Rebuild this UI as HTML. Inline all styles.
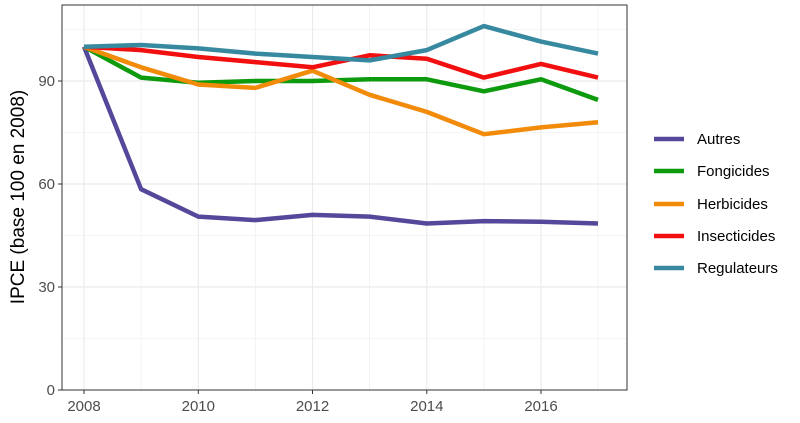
<!DOCTYPE html><html><head><style>body{margin:0;background:#fff}svg{font-family:"Liberation Sans",sans-serif}</style></head><body>
<svg width="800" height="418" xmlns="http://www.w3.org/2000/svg">
<rect width="800" height="418" fill="#fff"/>
<g stroke="#ebebeb" stroke-width="0.6">
<line x1="62" x2="627" y1="338.5" y2="338.5"/><line x1="62" x2="627" y1="235.5" y2="235.5"/><line x1="62" x2="627" y1="132.5" y2="132.5"/><line x1="62" x2="627" y1="29.5" y2="29.5"/>
<line y1="5" y2="390" x1="141.1" x2="141.1"/><line y1="5" y2="390" x1="255.4" x2="255.4"/><line y1="5" y2="390" x1="369.6" x2="369.6"/><line y1="5" y2="390" x1="483.9" x2="483.9"/><line y1="5" y2="390" x1="598" x2="598"/>
</g>
<g stroke="#ebebeb" stroke-width="1.2">
<line x1="62" x2="627" y1="287" y2="287"/><line x1="62" x2="627" y1="184" y2="184"/><line x1="62" x2="627" y1="81" y2="81"/>
<line y1="5" y2="390" x1="84" x2="84"/><line y1="5" y2="390" x1="198.3" x2="198.3"/><line y1="5" y2="390" x1="312.5" x2="312.5"/><line y1="5" y2="390" x1="426.8" x2="426.8"/><line y1="5" y2="390" x1="541" x2="541"/>
</g>
<g fill="none" stroke-width="4.5" stroke-linejoin="round">
<polyline stroke="#54489a" points="84,46.7 141.1,189.2 198.3,216.6 255.4,220.1 312.5,214.9 369.6,216.6 426.8,223.5 483.9,221.1 541,221.8 598,223.5"/>
<polyline stroke="#0d9a0d" points="84,46.7 141.1,77.6 198.3,82.7 255.4,81 312.5,81 369.6,79.3 426.8,79.3 483.9,91.3 541,79.3 598,99.9"/>
<polyline stroke="#f28a0a" points="84,46.7 141.1,67.3 198.3,84.5 255.4,87.9 312.5,70.7 369.6,94.8 426.8,111.9 483.9,134.2 541,127.4 598,122.2"/>
<polyline stroke="#f20f0f" points="84,46.7 141.1,50.1 198.3,57 255.4,62.1 312.5,67.3 369.6,55.3 426.8,58.7 483.9,77.6 541,63.9 598,77.6"/>
<polyline stroke="#3789a0" points="84,46.7 141.1,45 198.3,48.4 255.4,53.6 312.5,57 369.6,60.4 426.8,50.1 483.9,26.1 541,41.6 598,53.6"/>
</g>
<rect x="62" y="5" width="565" height="385" fill="none" stroke="#333" stroke-width="1"/>
<g stroke="#333" stroke-width="1"><line x1="58" x2="62" y1="390" y2="390"/><line x1="58" x2="62" y1="287" y2="287"/><line x1="58" x2="62" y1="184" y2="184"/><line x1="58" x2="62" y1="81" y2="81"/>
<line y1="390" y2="394" x1="84" x2="84"/><line y1="390" y2="394" x1="198.3" x2="198.3"/><line y1="390" y2="394" x1="312.5" x2="312.5"/><line y1="390" y2="394" x1="426.8" x2="426.8"/><line y1="390" y2="394" x1="541" x2="541"/></g>
<g fill="#4d4d4d" font-size="15" text-anchor="end"><text x="55" y="395">0</text><text x="55" y="292">30</text><text x="55" y="189">60</text><text x="55" y="86">90</text></g>
<g fill="#4d4d4d" font-size="15" text-anchor="middle"><text x="84" y="411">2008</text><text x="198.3" y="411">2010</text><text x="312.5" y="411">2012</text><text x="426.8" y="411">2014</text><text x="541" y="411">2016</text></g>
<text transform="translate(24,197) rotate(-90)" text-anchor="middle" font-size="19" fill="#000">IPCE (base 100 en 2008)</text>
<g stroke-width="4.5"><line x1="654" x2="684" y1="139" y2="139" stroke="#54489a"/><line x1="654" x2="684" y1="171" y2="171" stroke="#0d9a0d"/><line x1="654" x2="684" y1="204" y2="204" stroke="#f28a0a"/><line x1="654" x2="684" y1="236" y2="236" stroke="#f20f0f"/><line x1="654" x2="684" y1="268" y2="268" stroke="#3789a0"/></g>
<g font-size="15" fill="#000"><text x="697" y="144">Autres</text><text x="697" y="176">Fongicides</text><text x="697" y="209">Herbicides</text><text x="697" y="241">Insecticides</text><text x="697" y="273">Regulateurs</text></g>
</svg></body></html>
